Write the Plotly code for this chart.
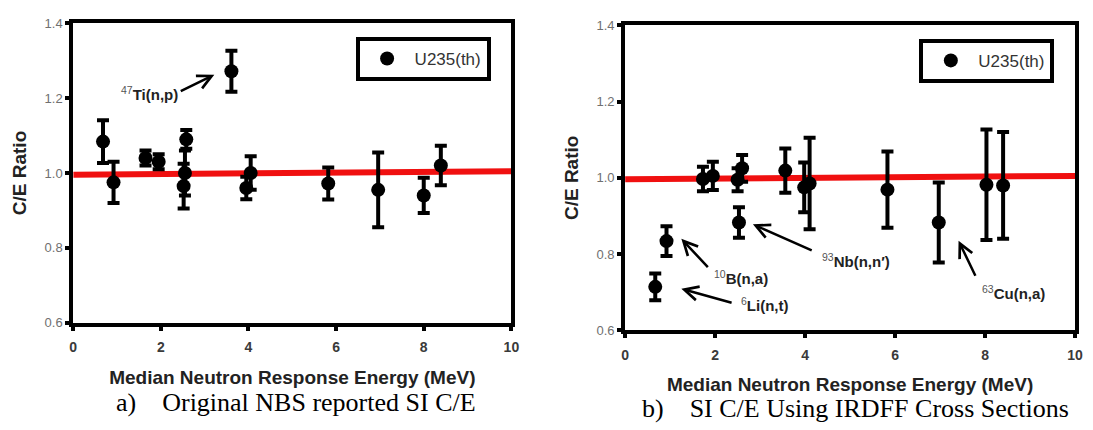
import plotly.graph_objects as go

# ---------------- data ----------------
# Panel a) Original NBS reported SI C/E
a_energy = [0.68, 0.92, 1.65, 1.95, 2.52, 2.55, 2.58, 3.61, 3.95, 4.05, 5.82, 6.96, 8.00, 8.39]
a_ratio = [1.084, 0.975, 1.040, 1.030, 0.965, 1.000, 1.090, 1.272, 0.960, 1.000, 0.972, 0.955, 0.940, 1.020]
a_err = [0.057, 0.055, 0.020, 0.020, 0.060, 0.060, 0.025, 0.055, 0.030, 0.045, 0.043, 0.100, 0.047, 0.053]

# Panel b) SI C/E using IRDFF cross sections
b_energy = [0.67, 0.92, 1.73, 1.95, 2.50, 2.60, 2.53, 3.56, 3.98, 4.10, 5.83, 6.97, 8.03, 8.40]
b_ratio = [0.714, 0.834, 0.997, 1.005, 0.995, 1.025, 0.883, 1.019, 0.975, 0.985, 0.969, 0.883, 0.982, 0.980]
b_err = [0.035, 0.039, 0.032, 0.037, 0.030, 0.035, 0.040, 0.058, 0.065, 0.120, 0.100, 0.105, 0.145, 0.140]

# red reference (fit) lines
fit_x = [0, 10]
a_fit = [0.995, 1.005]
b_fit = [0.996, 1.005]

x_ticks = [0, 2, 4, 6, 8, 10]
y_ticks = [0.6, 0.8, 1.0, 1.2, 1.4]

series_name = "U235(th)"
x_title = "Median Neutron Response Energy (MeV)"
y_title = "C/E Ratio"
caption_a = "a)\u00a0\u00a0\u00a0\u00a0Original NBS reported SI C/E"
caption_b = "b)\u00a0\u00a0\u00a0\u00a0SI C/E Using IRDFF Cross Sections"

# annotations: (isotope, reaction, text_x, text_y, tail_x, tail_y, head_x, head_y)
a_notes = [("47", "Ti(n,p)", 1.75, 1.212, 2.42, 1.217, 3.22, 1.263)]
b_notes = [
    ("10", "B(n,a)", 2.57, 0.739, 1.87, 0.762, 1.25, 0.840),
    ("6", "Li(n,t)", 3.10, 0.668, 2.40, 0.671, 1.25, 0.709),
    ("93", "Nb(n,n\u2032)", 5.12, 0.782, 4.18, 0.808, 2.84, 0.878),
    ("63", "Cu(n,a)", 8.62, 0.700, 7.80, 0.739, 7.41, 0.835),
]

W, H = 1093, 430
SANS = "Liberation Sans, Arial, sans-serif"
SERIF = "Liberation Serif, Times New Roman, serif"

fig = go.Figure()

for xs, ys, es, fit, xa, ya, lg in [
    (a_energy, a_ratio, a_err, a_fit, "x", "y", "legend"),
    (b_energy, b_ratio, b_err, b_fit, "x2", "y2", "legend2"),
]:
    fig.add_trace(go.Scatter(
        x=fit_x, y=fit, mode="lines", line=dict(color="#f01010", width=6),
        xaxis=xa, yaxis=ya, showlegend=False, hoverinfo="skip"))
    fig.add_trace(go.Scatter(
        x=xs, y=ys, mode="markers", name=series_name,
        marker=dict(color="black", size=14, symbol="circle"),
        error_y=dict(type="data", array=es, visible=True, color="black",
                     thickness=4, width=6),
        xaxis=xa, yaxis=ya, legend=lg, showlegend=True))

axis_common = dict(
    showline=True, linewidth=4, linecolor="black", mirror=True,
    ticks="outside", ticklen=4, tickwidth=4, tickcolor="black",
    showgrid=False, zeroline=False, fixedrange=True,
)
xaxis_common = dict(
    axis_common, range=[0, 10], tickvals=x_ticks, ticklabelstandoff=5,
    tickfont=dict(family=SANS, size=14, color="#3a3a3a", weight="bold"),
    title=dict(text=x_title, standoff=17,
               font=dict(family=SANS, size=19, color="#222", weight="bold")),
)
yaxis_common = dict(
    axis_common, range=[0.6, 1.4], tickvals=y_ticks, tickformat=".1f",
    tickfont=dict(family=SANS, size=13, color="#707070"),
    title=dict(text=y_title, standoff=14,
               font=dict(family=SANS, size=19, color="#222", weight="bold")),
)

annotations = []
for notes, xa, ya in [(a_notes, "x", "y"), (b_notes, "x2", "y2")]:
    for iso, rx, tx, ty, x0, y0, x1, y1 in notes:
        txt = f"<span style='color:#555'><sup>{iso}</sup></span><b>{rx}</b>"
        annotations.append(dict(
            x=tx, y=ty, xref=xa, yref=ya, text=txt, showarrow=False,
            xanchor="center", yanchor="middle",
            font=dict(family=SANS, size=15, color="#222")))
        annotations.append(dict(
            x=x1, y=y1, ax=x0, ay=y0, xref=xa, yref=ya, axref=xa, ayref=ya,
            text="", showarrow=True, arrowhead=5, arrowsize=1.1,
            arrowwidth=2.5, arrowcolor="black", standoff=0))

annotations.append(dict(
    x=295 / W, y=1 - 410 / H, xref="paper", yref="paper", text=caption_a,
    xanchor="center", yanchor="middle",
    showarrow=False, font=dict(family=SERIF, size=26, color="black")))
annotations.append(dict(
    x=861 / W, y=1 - 416 / H, xref="paper", yref="paper", text=caption_b,
    xanchor="center", yanchor="middle",
    showarrow=False, font=dict(family=SERIF, size=26, color="black")))

legend_common = dict(
    bgcolor="white", bordercolor="black", borderwidth=4,
    font=dict(family=SANS, size=17, color="#333"),
    xanchor="right", yanchor="top", itemwidth=45,
)

fig.update_layout(
    width=W, height=H, autosize=False,
    margin=dict(l=0, r=0, t=0, b=0),
    paper_bgcolor="white", plot_bgcolor="white",
    xaxis=dict(xaxis_common, domain=[70 / W, 513 / W], anchor="y"),
    yaxis=dict(yaxis_common, domain=[1 - 327 / H, 1 - 17 / H], anchor="x"),
    xaxis2=dict(xaxis_common, domain=[628 / W, 1083 / W], anchor="y2"),
    yaxis2=dict(yaxis_common, domain=[1 - 335 / H, 1 - 19 / H], anchor="x2"),
    legend=dict(legend_common, x=492 / W, y=1 - 31 / H),
    legend2=dict(legend_common, x=1062 / W, y=1 - 33 / H),
    annotations=annotations,
    showlegend=True,
)

fig.write_html("out.html")
